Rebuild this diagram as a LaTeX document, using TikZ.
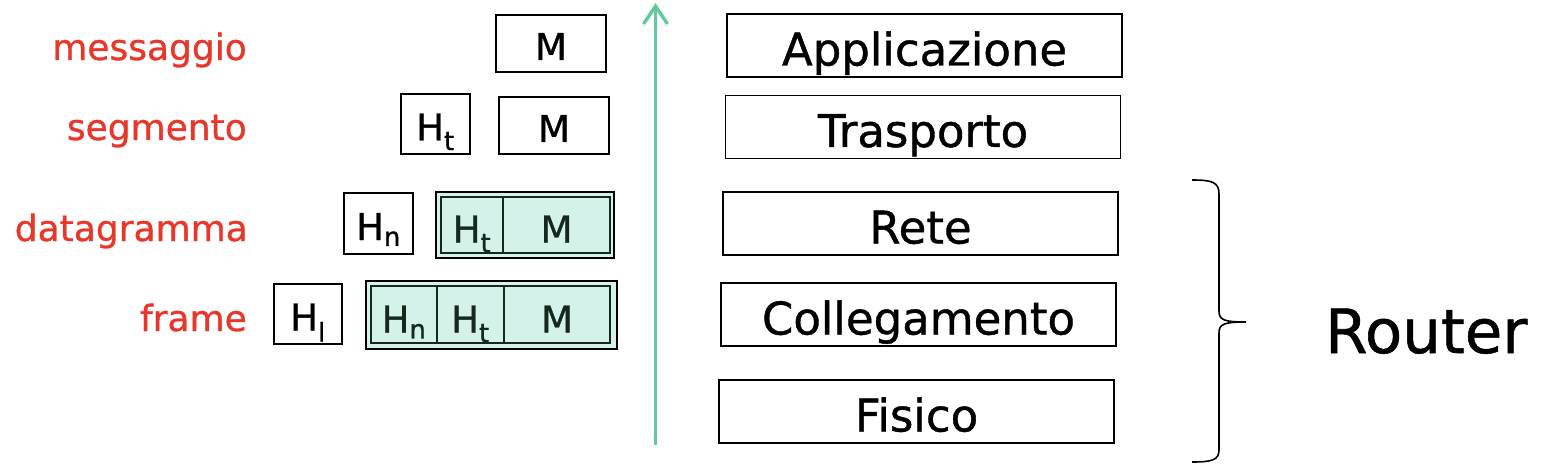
\documentclass[tikz,border=0pt]{standalone}
\usepackage{fontspec}
\setmainfont{DejaVu Sans}[FakeBold=0.9]
\usetikzlibrary{arrows.meta}
\definecolor{lblred}{HTML}{E8372A}
\definecolor{arrgreen}{HTML}{62C99E}
\definecolor{mint}{HTML}{D5F2EA}
\definecolor{darkink}{HTML}{14281E}
\tikzset{
  layer/.style={draw, line width=1.7pt, inner sep=0pt, minimum width=395pt, minimum height=63pt,
    text height=40pt, text depth=0pt, font=\fontsize{45}{48}\selectfont},
  pbox/.style={draw, line width=1.7pt, inner sep=0pt, text height=33pt, text depth=0pt,
    font=\fontsize{37}{40}\selectfont},
  gouter/.style={draw, line width=1.7pt, fill=mint, inner sep=0pt},
  ginner/.style={draw=darkink, line width=1.4pt, inner sep=0pt},
  gtext/.style={inner sep=0pt, text=darkink, text height=33pt, text depth=0pt, font=\fontsize{37}{40}\selectfont},
  lbl/.style={anchor=base east, text=lblred, inner sep=0pt, font=\fontsize{36}{40}\selectfont},
}
\begin{document}
\begin{tikzpicture}[x=1pt,y=-1pt]
\useasboundingbox (0,0) rectangle (1548,468);
% labels
\node[lbl] (lmsg) at (247,60) {messaggio};
\node[lbl] (lseg) at (247,140) {segmento};
\node[lbl] (ldat) at (248,241) {datagramma};
\node[lbl] (lfra) at (247,331) {frame};
% messaggio
\node[pbox, minimum width=110pt, minimum height=57pt] (m1) at (551,43.5) {M};
% segmento
\node[pbox, minimum width=69pt, minimum height=60pt] (ht2) at (435.5,124) {H$_\mathrm{t}$};
\node[pbox, minimum width=110pt, minimum height=57pt] (m2) at (554,125.5) {M};
% datagramma
\node[pbox, minimum width=69pt, minimum height=61pt] (hn3) at (378.5,223.5) {H$_\mathrm{n}$};
\node[gouter, minimum width=178pt, minimum height=66pt] (g3o) at (525,225) {};
\node[ginner, minimum width=169pt, minimum height=56pt] (g3i) at (525.5,225) {};
\draw[ginner] (g3i.north -| 503,0) -- (g3i.south -| 503,0);
\node[gtext] (ht3) at (472,226) {H$_\mathrm{t}$};
\node[gtext] (m3) at (556.5,226) {M};
% frame
\node[pbox, minimum width=68pt, minimum height=60pt] (hl4) at (308,314) {H$_\mathrm{l}$};
\node[gouter, minimum width=251pt, minimum height=68pt] (g4o) at (491.5,315) {};
\node[ginner, minimum width=239pt, minimum height=57pt] (g4i) at (490.5,314.5) {};
\draw[ginner] (g4i.north -| 437,0) -- (g4i.south -| 437,0);
\draw[ginner] (g4i.north -| 504,0) -- (g4i.south -| 504,0);
\node[gtext] (hn4) at (404,316) {H$_\mathrm{n}$};
\node[gtext] (ht4) at (470.5,316) {H$_\mathrm{t}$};
\node[gtext] (m4) at (557,316) {M};
% arrow
\coordinate (as) at (655.5,445);
\coordinate (ae) at (655.5,3);
\draw[arrgreen, line width=3.4pt, -{Straight Barb[length=18pt,width=24pt,line width=3.4pt]}] (as) -- (ae);
% layers
\node[layer] (app) at (924.5,45.5) {Applicazione};
\node[layer] (tra) at (923,127) {Trasporto};
\node[layer] (ret) at (920.5,223.5) {Rete};
\node[layer] (col) at (918.5,314.5) {Collegamento};
\node[layer] (fis) at (916.5,411.5) {Fisico};
% brace
\draw[line width=1.6pt] (1192,180) .. controls (1212,180) and (1219,182) .. (1219,194)
  -- (1219,311) .. controls (1219,320) and (1224,322) .. (1246,322)
  .. controls (1224,322) and (1219,324) .. (1219,333)
  -- (1219,450) .. controls (1219,460) and (1212,462) .. (1192,462);
\node[anchor=base west, inner sep=0pt, font=\fontsize{61}{66}\selectfont] (router) at (1325,353) {Router};
\end{tikzpicture}
\end{document}
